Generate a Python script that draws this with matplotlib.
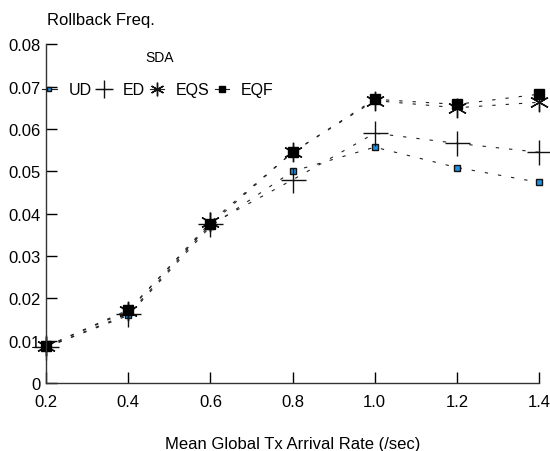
import matplotlib
matplotlib.use("Agg")
import matplotlib.pyplot as plt

plt.rcParams['font.family'] = ['Liberation Sans Narrow', 'Liberation Sans', 'DejaVu Sans']

# Data
rates = [0.2, 0.4, 0.6, 0.8, 1.0, 1.2, 1.4]
ud = [0.0085, 0.0160, 0.0370, 0.0500, 0.0557, 0.0509, 0.0474]
ed = [0.0085, 0.0163, 0.0375, 0.0480, 0.0590, 0.0566, 0.0545]
eqs = [0.0087, 0.0170, 0.0380, 0.0545, 0.0667, 0.0650, 0.0663]
eqf = [0.0087, 0.0173, 0.0375, 0.0545, 0.0670, 0.0658, 0.0682]

xticks = [0.2, 0.4, 0.6, 0.8, 1.0, 1.2, 1.4]
xtick_labels = ['0.2', '0.4', '0.6', '0.8', '1.0', '1.2', '1.4']
yticks = [0, 0.01, 0.02, 0.03, 0.04, 0.05, 0.06, 0.07, 0.08]
ytick_labels = ['0', '0.01', '0.02', '0.03', '0.04', '0.05', '0.06', '0.07', '0.08']

fig = plt.figure(figsize=(5.5, 4.52), dpi=100)
ax = fig.add_axes([0.084, 0.150, 0.896, 0.750])

dash = (3, 9)
ax.plot(rates, ud, color='#222222', lw=0.8, dashes=dash, marker='s', ms=4,
        mfc='#1f8fe0', mec='#111111', mew=1.0, label='UD', clip_on=False)
ax.plot(rates, ed, color='#222222', lw=0.8, dashes=dash, marker='+', ms=18,
        mec='#111111', mew=1.0, label='ED', clip_on=False)
ax.plot(rates, eqs, color='#222222', lw=0.8, dashes=dash, marker=(6, 2, 0), ms=14,
        mec='#111111', mew=1.0, label='EQS', clip_on=False)
ax.plot(rates, eqf, color='#222222', lw=0.8, dashes=dash, marker='s', ms=7,
        mfc='black', mec='black', label='EQF', clip_on=False)

ax.set_xlim(0.2, 1.4)
ax.set_ylim(0, 0.08)
ax.set_xticks(xticks)
ax.set_xticklabels(xtick_labels)
ax.set_yticks(yticks)
ax.set_yticklabels(ytick_labels)
ax.tick_params(direction='in', length=8, width=1, labelsize=12, pad=4)
ax.tick_params(axis='x', pad=8)
for s in ['top', 'right']:
    ax.spines[s].set_visible(False)
for s in ['left', 'bottom']:
    ax.spines[s].set_linewidth(1)
    ax.spines[s].set_color('#333333')

ax.set_xlabel('Mean Global Tx Arrival Rate (/sec)', fontsize=12, labelpad=19)
fig.text(0.085, 0.955, 'Rollback Freq.', fontsize=12, ha='left', va='center')
fig.text(0.291, 0.872, 'SDA', fontsize=10, ha='center', va='center')

leg = ax.legend(ncol=4, loc='center left', bbox_to_anchor=(-0.008, 0.866),
                frameon=False, fontsize=11.5,
                handlelength=0.9, handletextpad=0.75, columnspacing=0.3,
                borderaxespad=0, borderpad=0, markerscale=0.7)
for h in leg.legend_handles:
    h.set_linestyle('-')

fig.savefig('out.png', dpi=100)
